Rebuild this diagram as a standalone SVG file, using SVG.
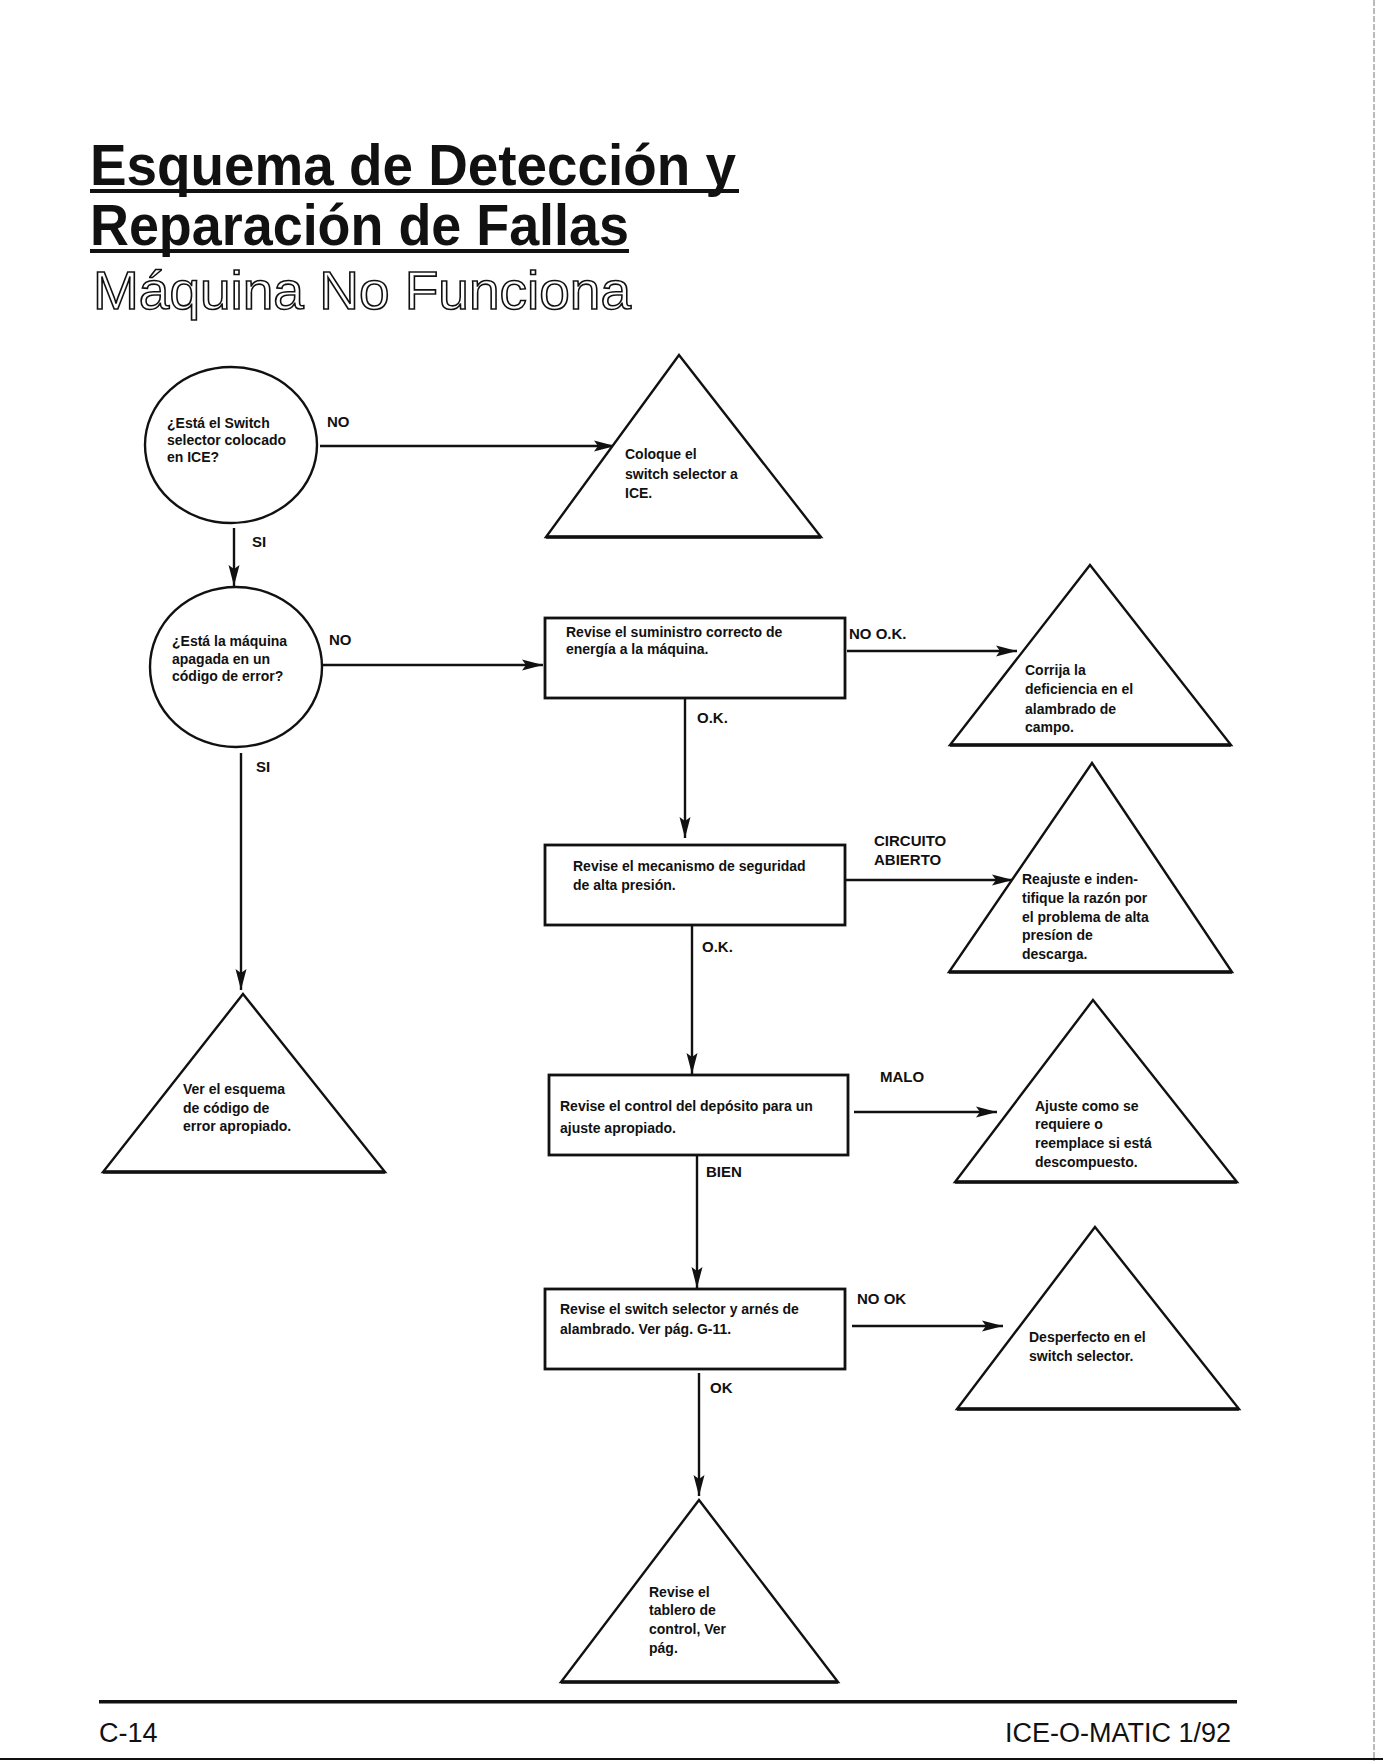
<svg xmlns="http://www.w3.org/2000/svg" width="1383" height="1761" viewBox="0 0 1383 1761">
<defs>
<style>
.t{font-family:"Liberation Sans",Arial,sans-serif;font-size:14px;font-weight:bold;fill:#111}
.lb{font-family:"Liberation Sans",Arial,sans-serif;font-size:15px;font-weight:bold;fill:#111}
.h{font-family:"Liberation Sans",Arial,sans-serif;font-weight:bold;font-size:57px;fill:#111}
.ho{font-family:"Liberation Sans",Arial,sans-serif;font-weight:normal;font-size:54px;fill:#fff;stroke:#111;stroke-width:1.6}
.ft{font-family:"Liberation Sans",Arial,sans-serif;font-size:27px;fill:#111}
.shape{fill:#fff;stroke:#111;stroke-width:2.4}
.box{fill:#fff;stroke:#111;stroke-width:2.8}
.base{stroke:#111;stroke-width:3.5}
.con{stroke:#111;stroke-width:2.4;fill:none}
</style>
<marker id="ah" markerUnits="userSpaceOnUse" markerWidth="22" markerHeight="12" refX="21" refY="6" orient="auto">
<path d="M0,0.5 L21,6 L0,11.5 L4,6 z" fill="#111"/>
</marker>
</defs>
<rect width="1383" height="1761" fill="#fff"/>
<line x1="1374" y1="0" x2="1374" y2="1761" stroke="#777" stroke-width="1" stroke-dasharray="6,2"/>
<line x1="0" y1="1759" x2="1383" y2="1759" stroke="#111" stroke-width="2"/>

<g id="title">
<text class="h" x="90" y="185" textLength="646" lengthAdjust="spacingAndGlyphs">Esquema de Detección y</text>
<rect x="90" y="189" width="649" height="4" fill="#111"/>
<text class="h" x="90" y="245" textLength="539" lengthAdjust="spacingAndGlyphs">Reparación de Fallas</text>
<rect x="90" y="249" width="539" height="4" fill="#111"/>
<text class="ho" x="93" y="309" textLength="538" lengthAdjust="spacingAndGlyphs">Máquina No Funciona</text>
</g>

<g id="connectors">
<line class="con" x1="320" y1="446" x2="615" y2="446" marker-end="url(#ah)"/>
<text class="lb" x="327" y="427">NO</text>
<line class="con" x1="234" y1="528" x2="234" y2="586" marker-end="url(#ah)"/>
<text class="lb" x="252" y="547">SI</text>
<line class="con" x1="322" y1="665" x2="543" y2="665" marker-end="url(#ah)"/>
<text class="lb" x="329" y="645">NO</text>
<line class="con" x1="241" y1="753" x2="241" y2="990" marker-end="url(#ah)"/>
<text class="lb" x="256" y="772">SI</text>
<line class="con" x1="847" y1="651" x2="1017" y2="651" marker-end="url(#ah)"/>
<text class="lb" x="849" y="639">NO O.K.</text>
<line class="con" x1="685" y1="698" x2="685" y2="838" marker-end="url(#ah)"/>
<text class="lb" x="697" y="723">O.K.</text>
<line class="con" x1="845" y1="880" x2="1013" y2="880" marker-end="url(#ah)"/>
<text class="lb" x="874" y="846">CIRCUITO</text>
<text class="lb" x="874" y="865">ABIERTO</text>
<line class="con" x1="692" y1="925" x2="692" y2="1074" marker-end="url(#ah)"/>
<text class="lb" x="702" y="952">O.K.</text>
<line class="con" x1="854" y1="1112" x2="997" y2="1112" marker-end="url(#ah)"/>
<text class="lb" x="880" y="1082">MALO</text>
<line class="con" x1="697" y1="1155" x2="697" y2="1288" marker-end="url(#ah)"/>
<text class="lb" x="706" y="1177">BIEN</text>
<line class="con" x1="852" y1="1326" x2="1003" y2="1326" marker-end="url(#ah)"/>
<text class="lb" x="857" y="1304">NO OK</text>
<line class="con" x1="699" y1="1373" x2="699" y2="1496" marker-end="url(#ah)"/>
<text class="lb" x="710" y="1393">OK</text>
</g>

<g id="q1">
<ellipse class="shape" cx="231" cy="445" rx="86" ry="78"/>
<text class="t" x="167" y="428">¿Está el Switch</text>
<text class="t" x="167" y="445">selector colocado</text>
<text class="t" x="167" y="462">en ICE?</text>
</g>

<g id="a1">
<polygon class="shape" points="679,355 821,537 546,537"/>
<line class="base" x1="546" y1="537" x2="821" y2="537"/>
<text class="t" x="625" y="459">Coloque el</text>
<text class="t" x="625" y="479">switch selector a</text>
<text class="t" x="625" y="498">ICE.</text>
</g>

<g id="q2">
<ellipse class="shape" cx="236" cy="667" rx="86" ry="80"/>
<text class="t" x="172" y="646">¿Está la máquina</text>
<text class="t" x="172" y="664">apagada en un</text>
<text class="t" x="172" y="681">código de error?</text>
</g>

<g id="a2">
<polygon class="shape" points="243,994 385,1172 103,1172"/>
<line class="base" x1="103" y1="1172" x2="385" y2="1172"/>
<text class="t" x="183" y="1094">Ver el esquema</text>
<text class="t" x="183" y="1113">de código de</text>
<text class="t" x="183" y="1131">error  apropiado.</text>
</g>

<g id="b1">
<rect class="box" x="545" y="618" width="300" height="80"/>
<text class="t" x="566" y="637">Revise el suministro correcto de</text>
<text class="t" x="566" y="654">energía a la máquina.</text>
</g>

<g id="a3">
<polygon class="shape" points="1090,565 1231,745 950,745"/>
<line class="base" x1="950" y1="745" x2="1231" y2="745"/>
<text class="t" x="1025" y="675">Corrija la</text>
<text class="t" x="1025" y="694">deficiencia en el</text>
<text class="t" x="1025" y="714">alambrado de</text>
<text class="t" x="1025" y="732">campo.</text>
</g>

<g id="b2">
<rect class="box" x="545" y="845" width="300" height="80"/>
<text class="t" x="573" y="871">Revise el mecanismo de seguridad</text>
<text class="t" x="573" y="890">de alta presión.</text>
</g>

<g id="a4">
<polygon class="shape" points="1092,763 1232,972 949,972"/>
<line class="base" x1="949" y1="972" x2="1232" y2="972"/>
<text class="t" x="1022" y="884">Reajuste e inden-</text>
<text class="t" x="1022" y="903">tifique la razón por</text>
<text class="t" x="1022" y="922">el problema de alta</text>
<text class="t" x="1022" y="940">presíon de</text>
<text class="t" x="1022" y="959">descarga.</text>
</g>

<g id="b3">
<rect class="box" x="549" y="1075" width="299" height="80"/>
<text class="t" x="560" y="1111">Revise el control del depósito para un</text>
<text class="t" x="560" y="1133">ajuste apropiado.</text>
</g>

<g id="a5">
<polygon class="shape" points="1093,1000 1237,1182 955,1182"/>
<line class="base" x1="955" y1="1182" x2="1237" y2="1182"/>
<text class="t" x="1035" y="1111">Ajuste como se</text>
<text class="t" x="1035" y="1129">requiere o</text>
<text class="t" x="1035" y="1148">reemplace si está</text>
<text class="t" x="1035" y="1167">descompuesto.</text>
</g>

<g id="b4">
<rect class="box" x="545" y="1289" width="300" height="80"/>
<text class="t" x="560" y="1314">Revise el switch selector y arnés de</text>
<text class="t" x="560" y="1334">alambrado. Ver pág. G-11.</text>
</g>

<g id="a6">
<polygon class="shape" points="1095,1227 1239,1409 957,1409"/>
<line class="base" x1="957" y1="1409" x2="1239" y2="1409"/>
<text class="t" x="1029" y="1342">Desperfecto en el</text>
<text class="t" x="1029" y="1361">switch selector.</text>
</g>

<g id="a7">
<polygon class="shape" points="699,1500 838,1682 561,1682"/>
<line class="base" x1="561" y1="1682" x2="838" y2="1682"/>
<text class="t" x="649" y="1597">Revise el</text>
<text class="t" x="649" y="1615">tablero de</text>
<text class="t" x="649" y="1634">control, Ver</text>
<text class="t" x="649" y="1653">pág.</text>
</g>

<g id="footer">
<rect x="99" y="1700" width="1138" height="3.5" fill="#111"/>
<text class="ft" x="99" y="1742">C-14</text>
<text class="ft" x="1231" y="1742" text-anchor="end">ICE-O-MATIC 1/92</text>
</g>
</svg>
